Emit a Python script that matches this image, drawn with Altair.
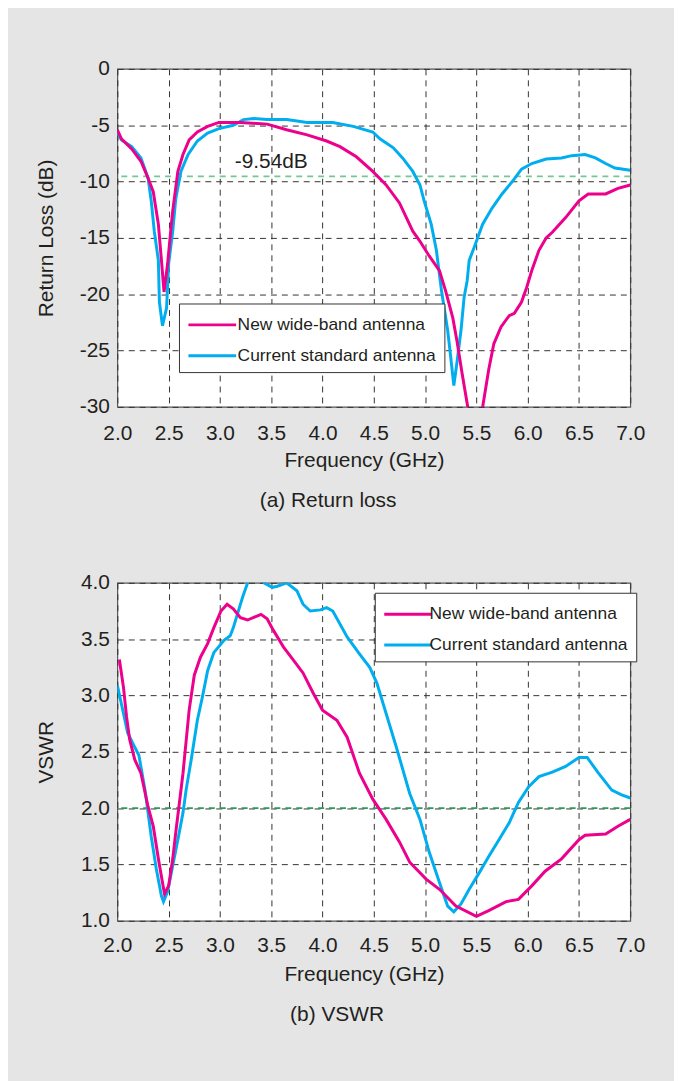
import altair as alt
import pandas as pd

FONT = "Liberation Sans"
TXT = "#231f20"
MAGENTA = "#ec008c"
CYAN = "#00aeef"

SERIES = ["New wide-band antenna", "Current standard antenna"]
FREQ_TICKS = [2.0, 2.5, 3.0, 3.5, 4.0, 4.5, 5.0, 5.5, 6.0, 6.5, 7.0]
RL_TICKS = [0, -5, -10, -15, -20, -25, -30]
VSWR_TICKS = [1.0, 1.5, 2.0, 2.5, 3.0, 3.5, 4.0]
CAPTIONS = ["(a) Return loss", "(b) VSWR"]

# ---- (a) Return loss ----
rl_new_f = [2.00, 2.04, 2.14, 2.23, 2.30, 2.35, 2.40, 2.43, 2.455, 2.49, 2.52, 2.54, 2.59, 2.64,
            2.70, 2.78, 2.88, 2.99, 3.20, 3.46, 3.65, 3.85, 4.04, 4.17, 4.33, 4.49, 4.62, 4.75,
            4.88, 4.95, 5.04, 5.14, 5.20, 5.27, 5.31, 5.36, 5.49, 5.62, 5.67, 5.74, 5.82, 5.87,
            5.94, 5.99, 6.04, 6.11, 6.18, 6.24, 6.37, 6.50, 6.59, 6.76, 6.88, 7.00]
rl_new_db = [-5.4, -6.2, -7.1, -8.2, -9.7, -10.9, -13.8, -17.0, -19.8, -17.3, -14.4, -12.6, -9.1, -7.6,
             -6.3, -5.6, -5.1, -4.75, -4.75, -4.9, -5.4, -5.85, -6.4, -6.9, -7.8, -9.1, -10.3, -11.9,
             -14.4, -15.3, -16.6, -17.9, -19.7, -22.1, -24.1, -27.0, -34.0, -26.7, -24.4, -22.9, -21.9, -21.7,
             -20.7, -19.4, -17.9, -16.1, -15.0, -14.5, -13.2, -11.7, -11.1, -11.1, -10.6, -10.3]

rl_std_f = [2.00, 2.04, 2.14, 2.23, 2.30, 2.33, 2.36, 2.40, 2.41, 2.44, 2.48, 2.50, 2.54, 2.57,
            2.62, 2.69, 2.78, 2.88, 2.99, 3.13, 3.23, 3.33, 3.46, 3.65, 3.85, 4.10, 4.30, 4.49,
            4.56, 4.69, 4.78, 4.88, 4.95, 4.99, 5.06, 5.11, 5.16, 5.22, 5.25, 5.28, 5.31, 5.35,
            5.38, 5.41, 5.43, 5.48, 5.56, 5.65, 5.75, 5.85, 5.94, 6.04, 6.18, 6.33, 6.43, 6.56,
            6.66, 6.76, 6.85, 7.00]
rl_std_db = [-5.7, -6.3, -6.9, -7.9, -9.7, -11.7, -14.4, -17.0, -20.7, -22.8, -21.2, -17.3, -14.4, -11.5,
             -9.1, -7.6, -6.4, -5.7, -5.3, -5.0, -4.5, -4.4, -4.5, -4.5, -4.75, -4.75, -5.1, -5.6,
             -6.2, -7.0, -7.9, -9.1, -10.3, -11.7, -13.8, -16.1, -19.7, -23.2, -25.6, -28.1, -26.1, -23.2,
             -20.3, -18.8, -17.0, -15.8, -13.8, -12.4, -11.1, -10.0, -8.9, -8.4, -8.0, -7.9, -7.7, -7.6,
             -7.9, -8.4, -8.8, -9.0]

rl_threshold = [-9.54]
rl_note_f = [3.5]
rl_note_db = [-8.25]
rl_note_text = ["-9.54dB"]

# ---- (b) VSWR ----
vs_new_f = [2.02, 2.06, 2.09, 2.12, 2.17, 2.23, 2.30, 2.35, 2.40, 2.44, 2.46, 2.50, 2.54, 2.57,
            2.60, 2.64, 2.70, 2.75, 2.81, 2.88, 2.94, 3.01, 3.07, 3.13, 3.20, 3.27, 3.40, 3.46,
            3.52, 3.62, 3.72, 3.81, 3.91, 4.00, 4.14, 4.24, 4.36, 4.49, 4.62, 4.75, 4.85, 5.01,
            5.14, 5.30, 5.50, 5.62, 5.79, 5.91, 6.04, 6.17, 6.33, 6.50, 6.56, 6.76, 6.88, 7.00]
vs_new_v = [3.32, 3.07, 2.81, 2.61, 2.43, 2.31, 2.01, 1.84, 1.55, 1.34, 1.24, 1.31, 1.55, 1.79,
            2.01, 2.31, 2.87, 3.18, 3.34, 3.46, 3.60, 3.75, 3.81, 3.77, 3.69, 3.67, 3.72, 3.68,
            3.58, 3.43, 3.31, 3.20, 3.02, 2.87, 2.78, 2.63, 2.31, 2.08, 1.90, 1.70, 1.52, 1.37,
            1.28, 1.13, 1.04, 1.09, 1.17, 1.19, 1.31, 1.44, 1.55, 1.72, 1.76, 1.77, 1.84, 1.90]

vs_std_f = [2.00, 2.06, 2.10, 2.17, 2.21, 2.27, 2.33, 2.38, 2.43, 2.45, 2.49, 2.54, 2.59, 2.64,
            2.67, 2.72, 2.78, 2.83, 2.88, 2.94, 3.04, 3.10, 3.13, 3.17, 3.22, 3.27, 3.35, 3.43,
            3.51, 3.56, 3.65, 3.75, 3.81, 3.88, 3.98, 4.04, 4.10, 4.24, 4.36, 4.46, 4.53, 4.62,
            4.72, 4.85, 4.95, 5.04, 5.14, 5.22, 5.28, 5.35, 5.43, 5.53, 5.62, 5.72, 5.82, 5.91,
            6.01, 6.11, 6.24, 6.37, 6.50, 6.58, 6.69, 6.82, 6.91, 7.00]
vs_std_v = [3.09, 2.84, 2.67, 2.54, 2.47, 2.16, 1.75, 1.46, 1.22, 1.17, 1.26, 1.49, 1.72, 1.96,
            2.16, 2.43, 2.78, 2.99, 3.22, 3.38, 3.49, 3.53, 3.60, 3.72, 3.87, 4.00, 4.12, 4.00,
            3.96, 3.97, 4.00, 3.93, 3.81, 3.75, 3.76, 3.78, 3.75, 3.52, 3.37, 3.25, 3.11, 2.84,
            2.54, 2.13, 1.90, 1.61, 1.34, 1.13, 1.08, 1.15, 1.28, 1.43, 1.57, 1.72, 1.87, 2.05,
            2.19, 2.28, 2.32, 2.37, 2.45, 2.45, 2.31, 2.16, 2.12, 2.09]

vswr_threshold = [2.0]


def series_df(f, y, name):
    return pd.DataFrame({"f": f, "y": y, "s": [name] * len(f), "o": list(range(len(f)))})


def x_enc(label_pad):
    return alt.X("f:Q", scale=alt.Scale(domain=[2, 7], nice=False, zero=False),
                 axis=alt.Axis(values=FREQ_TICKS, format=".1f", title="Frequency (GHz)",
                               labelPadding=label_pad, titleX=248, titleY=54,
                               titleBaseline="middle", titleAlign="center"))


def y_enc(domain, values, title, **kw):
    return alt.Y("y:Q", scale=alt.Scale(domain=domain, nice=False, zero=False),
                 axis=alt.Axis(values=values, title=title, labelPadding=8,
                               titleX=-71, titleY=170, titleAngle=270,
                               titleBaseline="middle", titleAlign="center", **kw))


def color_enc(lx, ly, lab_off):
    return alt.Color("s:N", scale=alt.Scale(domain=SERIES, range=[MAGENTA, CYAN]),
                     legend=alt.Legend(orient="none", legendX=lx, legendY=ly, title=None,
                                       direction="vertical", symbolType="M-1,0H3",
                                       symbolSize=576, symbolStrokeWidth=3,
                                       labelFont=FONT, labelFontSize=17.5, labelColor=TXT,
                                       labelOffset=lab_off, labelLimit=400,
                                       strokeColor="#333", fillColor="white",
                                       padding=8, rowPadding=9))


def panel(new_df, std_df, thr, thr_color, y_domain, y_values, y_title, label_pad,
          lx, ly, lab_off, caption, cap_dx, extra=None, **ykw):
    X = x_enc(label_pad)
    Y = y_enc(y_domain, y_values, y_title, **ykw)
    rule = alt.Chart(pd.DataFrame({"y": thr})).mark_rule(
        color=thr_color, strokeDash=[6, 5], strokeWidth=1.6).encode(y=Y)
    std = alt.Chart(std_df).mark_line(strokeWidth=3, clip=True).encode(
        x=X, y=Y, color=color_enc(lx, ly, lab_off), order="o:Q")
    new = alt.Chart(new_df).mark_line(strokeWidth=3, clip=True).encode(
        x=X, y=Y, color=color_enc(lx, ly, lab_off), order="o:Q")
    layers = [rule, std, new]
    if extra is not None:
        layers.append(extra.encode(x=X, y=Y, text="t:N"))
    return alt.layer(*layers).properties(
        width=516, height=340,
        title=alt.TitleParams(caption, orient="bottom", dx=cap_dx, offset=20,
                              anchor="middle", font=FONT, fontSize=21,
                              fontWeight="normal", color=TXT))


note = alt.Chart(pd.DataFrame({"f": rl_note_f, "y": rl_note_db, "t": rl_note_text})).mark_text(
    font=FONT, fontSize=21, color=TXT, align="center", baseline="middle")

top = panel(series_df(rl_new_f, rl_new_db, SERIES[0]), series_df(rl_std_f, rl_std_db, SERIES[1]),
            rl_threshold, "#72c893", [-30, 0], RL_TICKS, "Return Loss (dB)", 16,
            62, 236, 24, CAPTIONS[0], -46, extra=note,
            labelExpr="datum.value == 0 ? '0' : '-' + format(abs(datum.value), 'd')")

bottom = panel(series_df(vs_new_f, vs_new_v, SERIES[0]), series_df(vs_std_f, vs_std_v, SERIES[1]),
               vswr_threshold, "#2a9a58", [1, 4], VSWR_TICKS, "VSWR", 14,
               259, 10, 20, CAPTIONS[1], -37, format=".1f")

chart = alt.vconcat(top, bottom, spacing=59).resolve_scale(
    color="independent").resolve_legend(color="independent").properties(
    background="#e5e5e5",
    padding={"left": 27, "top": 46, "right": 28, "bottom": 70},
).configure_view(
    stroke="#555", strokeWidth=1.2, fill="white"
).configure_axis(
    domain=False, ticks=False, grid=True, gridDash=[6, 5], gridColor="#333", gridWidth=1,
    gridOpacity=1,
    labelFont=FONT, labelFontSize=21, labelColor=TXT, labelFlush=False, labelOverlap=False,
    titleFont=FONT, titleFontSize=21, titleFontWeight="normal", titleColor=TXT
)

chart.save("out.html", embed_options={"renderer": "svg", "actions": False})
